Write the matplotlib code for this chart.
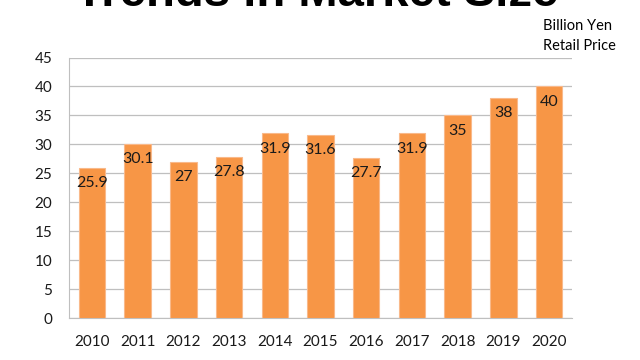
import matplotlib.pyplot as plt

years = ['2010', '2011', '2012', '2013', '2014', '2015', '2016', '2017', '2018', '2019', '2020']
values = [25.9, 30.1, 27, 27.8, 31.9, 31.6, 27.7, 31.9, 35, 38, 40]
labels = ['25.9', '30.1', '27', '27.8', '31.9', '31.6', '27.7', '31.9', '35', '38', '40']

plt.rcParams['font.family'] = ['Lato', 'DejaVu Sans']

fig = plt.figure(figsize=(6.4, 3.6), dpi=100)
ax = fig.add_axes([69 / 640, 1 - 318 / 360, (572 - 69) / 640, (318 - 57.5) / 360])

bars = ax.bar(range(len(years)), values, width=0.58, color='#F79646', zorder=3,
              edgecolor='#F9B98A', linewidth=0.8)

for i, (v, lab) in enumerate(zip(values, labels)):
    ax.annotate(lab, (i, v), xytext=(0, -11), textcoords='offset points',
                ha='center', va='center', fontsize=11.5, color='#1a1a1a', zorder=4)

ax.set_xlim(-0.5, len(years) - 0.5)
ax.set_ylim(0, 45)
ax.set_yticks(range(0, 46, 5))
ax.set_xticks(range(len(years)))
ax.set_xticklabels(years)
ax.tick_params(axis='both', length=0, labelsize=11, colors='#1a1a1a')
ax.tick_params(axis='y', pad=12)
ax.tick_params(axis='x', pad=12)
ax.grid(axis='y', color='#BFBFBF', linewidth=0.9, zorder=0)
for s in ['top', 'right']:
    ax.spines[s].set_visible(False)
ax.spines['left'].set_color('#BFBFBF')
ax.spines['bottom'].set_color('#BFBFBF')

fig.text(0.495, 1 - 6 / 360, 'Trends in Market Size', ha='center', va='baseline',
         fontsize=34, fontweight='bold', family='Liberation Sans')
fig.text(543 / 640, 1 - 26 / 360, 'Billion Yen', ha='left', va='center', fontsize=10.5)
fig.text(543 / 640, 1 - 46 / 360, 'Retail Price', ha='left', va='center', fontsize=10.5)

plt.savefig('out.png', dpi=100)
